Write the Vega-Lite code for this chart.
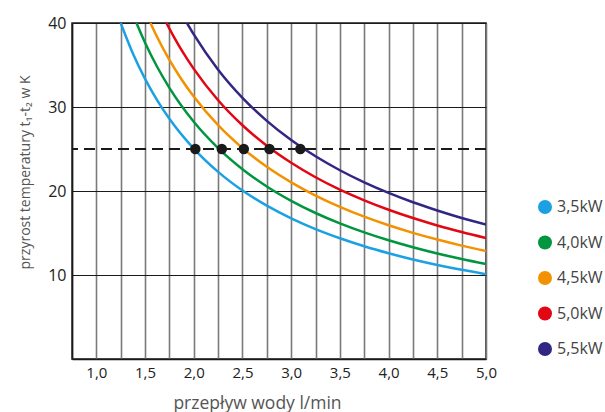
{
  "$schema": "https://vega.github.io/schema/vega-lite/v6.json",
  "autosize": {"type": "none"},
  "padding": {"left": 72, "top": 23, "right": 119, "bottom": 53},
  "width": 414,
  "height": 336,
  "background": "white",
  "config": {
    "font": "Open Sans",
    "view": {"stroke": "#1a1a1a", "strokeWidth": 1.5}
  },
  "resolve": {"axis": {"x": "independent"}},
  "datasets": {
    "curves": [
      {"q": 1.25, "t": 40.0, "moc": "3,5kW"},
      {"q": 1.375, "t": 36.37, "moc": "3,5kW"},
      {"q": 1.5, "t": 33.35, "moc": "3,5kW"},
      {"q": 1.625, "t": 30.79, "moc": "3,5kW"},
      {"q": 1.75, "t": 28.6, "moc": "3,5kW"},
      {"q": 2.0, "t": 25.05, "moc": "3,5kW"},
      {"q": 2.25, "t": 22.28, "moc": "3,5kW"},
      {"q": 2.5, "t": 20.06, "moc": "3,5kW"},
      {"q": 2.75, "t": 18.25, "moc": "3,5kW"},
      {"q": 3.0, "t": 16.74, "moc": "3,5kW"},
      {"q": 3.25, "t": 15.46, "moc": "3,5kW"},
      {"q": 3.5, "t": 14.37, "moc": "3,5kW"},
      {"q": 3.75, "t": 13.42, "moc": "3,5kW"},
      {"q": 4.0, "t": 12.59, "moc": "3,5kW"},
      {"q": 4.25, "t": 11.85, "moc": "3,5kW"},
      {"q": 4.5, "t": 11.2, "moc": "3,5kW"},
      {"q": 4.75, "t": 10.62, "moc": "3,5kW"},
      {"q": 5.0, "t": 10.1, "moc": "3,5kW"},
      {"q": 1.412, "t": 40.0, "moc": "4,0kW"},
      {"q": 1.5, "t": 37.65, "moc": "4,0kW"},
      {"q": 1.625, "t": 34.76, "moc": "4,0kW"},
      {"q": 1.75, "t": 32.28, "moc": "4,0kW"},
      {"q": 2.0, "t": 28.24, "moc": "4,0kW"},
      {"q": 2.25, "t": 25.11, "moc": "4,0kW"},
      {"q": 2.5, "t": 22.6, "moc": "4,0kW"},
      {"q": 2.75, "t": 20.54, "moc": "4,0kW"},
      {"q": 3.0, "t": 18.83, "moc": "4,0kW"},
      {"q": 3.25, "t": 17.38, "moc": "4,0kW"},
      {"q": 3.5, "t": 16.14, "moc": "4,0kW"},
      {"q": 3.75, "t": 15.07, "moc": "4,0kW"},
      {"q": 4.0, "t": 14.13, "moc": "4,0kW"},
      {"q": 4.25, "t": 13.3, "moc": "4,0kW"},
      {"q": 4.5, "t": 12.56, "moc": "4,0kW"},
      {"q": 4.75, "t": 11.9, "moc": "4,0kW"},
      {"q": 5.0, "t": 11.3, "moc": "4,0kW"},
      {"q": 1.555, "t": 40.0, "moc": "4,5kW"},
      {"q": 1.625, "t": 38.3, "moc": "4,5kW"},
      {"q": 1.75, "t": 35.61, "moc": "4,5kW"},
      {"q": 1.875, "t": 33.28, "moc": "4,5kW"},
      {"q": 2.0, "t": 31.24, "moc": "4,5kW"},
      {"q": 2.25, "t": 27.83, "moc": "4,5kW"},
      {"q": 2.5, "t": 25.11, "moc": "4,5kW"},
      {"q": 2.75, "t": 22.88, "moc": "4,5kW"},
      {"q": 3.0, "t": 21.03, "moc": "4,5kW"},
      {"q": 3.25, "t": 19.46, "moc": "4,5kW"},
      {"q": 3.5, "t": 18.11, "moc": "4,5kW"},
      {"q": 3.75, "t": 16.94, "moc": "4,5kW"},
      {"q": 4.0, "t": 15.92, "moc": "4,5kW"},
      {"q": 4.25, "t": 15.02, "moc": "4,5kW"},
      {"q": 4.5, "t": 14.22, "moc": "4,5kW"},
      {"q": 4.75, "t": 13.5, "moc": "4,5kW"},
      {"q": 5.0, "t": 12.86, "moc": "4,5kW"},
      {"q": 1.719, "t": 40.0, "moc": "5,0kW"},
      {"q": 1.8, "t": 38.26, "moc": "5,0kW"},
      {"q": 1.875, "t": 36.77, "moc": "5,0kW"},
      {"q": 2.0, "t": 34.54, "moc": "5,0kW"},
      {"q": 2.25, "t": 30.81, "moc": "5,0kW"},
      {"q": 2.5, "t": 27.83, "moc": "5,0kW"},
      {"q": 2.75, "t": 25.39, "moc": "5,0kW"},
      {"q": 3.0, "t": 23.36, "moc": "5,0kW"},
      {"q": 3.25, "t": 21.64, "moc": "5,0kW"},
      {"q": 3.5, "t": 20.16, "moc": "5,0kW"},
      {"q": 3.75, "t": 18.89, "moc": "5,0kW"},
      {"q": 4.0, "t": 17.77, "moc": "5,0kW"},
      {"q": 4.25, "t": 16.78, "moc": "5,0kW"},
      {"q": 4.5, "t": 15.9, "moc": "5,0kW"},
      {"q": 4.75, "t": 15.12, "moc": "5,0kW"},
      {"q": 5.0, "t": 14.41, "moc": "5,0kW"},
      {"q": 1.93, "t": 40.0, "moc": "5,5kW"},
      {"q": 2.0, "t": 38.64, "moc": "5,5kW"},
      {"q": 2.25, "t": 34.44, "moc": "5,5kW"},
      {"q": 2.5, "t": 31.09, "moc": "5,5kW"},
      {"q": 2.75, "t": 28.35, "moc": "5,5kW"},
      {"q": 3.0, "t": 26.06, "moc": "5,5kW"},
      {"q": 3.25, "t": 24.13, "moc": "5,5kW"},
      {"q": 3.5, "t": 22.47, "moc": "5,5kW"},
      {"q": 3.75, "t": 21.03, "moc": "5,5kW"},
      {"q": 4.0, "t": 19.77, "moc": "5,5kW"},
      {"q": 4.25, "t": 18.66, "moc": "5,5kW"},
      {"q": 4.5, "t": 17.68, "moc": "5,5kW"},
      {"q": 4.75, "t": 16.79, "moc": "5,5kW"},
      {"q": 5.0, "t": 16.0, "moc": "5,5kW"}
    ],
    "dots": [
      {"q": 2.016, "t": 25},
      {"q": 2.288, "t": 25},
      {"q": 2.514, "t": 25},
      {"q": 2.777, "t": 25},
      {"q": 3.094, "t": 25}
    ],
    "ref": [{"t": 25}]
  },
  "layer": [
    {
      "data": {"name": "curves"},
      "mark": {"type": "line", "strokeWidth": 2.5, "interpolate": "monotone", "clip": true},
      "encoding": {
        "x": {
          "field": "q", "type": "quantitative",
          "scale": {"domain": [0.75, 5.0], "nice": false, "zero": false},
          "axis": {
            "orient": "bottom",
            "values": [0.75, 1.0, 1.25, 1.5, 1.75, 2.0, 2.25, 2.5, 2.75, 3.0, 3.25, 3.5, 3.75, 4.0, 4.25, 4.5, 4.75, 5.0],
            "grid": true, "gridColor": "#7a7a7a", "gridWidth": 1.6,
            "ticks": false, "labels": false, "domain": false, "title": null
          }
        },
        "y": {
          "field": "t", "type": "quantitative",
          "scale": {"domain": [0, 40], "nice": false},
          "axis": {
            "values": [10, 20, 30, 40],
            "grid": true, "gridColor": "#1a1a1a", "gridWidth": 1.2,
            "ticks": false, "domainColor": "#1a1a1a", "domainWidth": 1.5,
            "labelFontSize": 16, "labelColor": "#222", "labelPadding": 6, "labelFont": "Open Sans",
            "title": "przyrost temperatury t₁-t₂ w K",
            "titleFontSize": 14, "titleFontWeight": "normal", "titleColor": "#555", "titleFont": "Open Sans",
            "titleAngle": -90, "titleAnchor": "middle", "titleAlign": "center", "titleX": -47, "titleY": 149, "titleBaseline": "middle"
          }
        },
        "color": {
          "field": "moc", "type": "nominal",
          "scale": {
            "domain": ["3,5kW", "4,0kW", "4,5kW", "5,0kW", "5,5kW"],
            "range": ["#1ba1e2", "#009640", "#f39200", "#e30613", "#312783"]
          },
          "legend": {
            "orient": "none", "legendX": 465, "legendY": 176,
            "title": null, "symbolType": "circle", "symbolSize": 196,
            "labelFontSize": 16, "labelColor": "#444", "labelFont": "Open Sans",
            "labelOffset": 4, "rowPadding": 19.5, "padding": 0,
            "encode": {
              "symbols": {
                "update": {
                  "fill": {"scale": "color", "field": "value"},
                  "strokeWidth": {"value": 0},
                  "opacity": {"value": 1}
                }
              }
            }
          }
        }
      }
    },
    {
      "data": {"name": "ref"},
      "mark": {"type": "rule", "color": "#1a1a1a", "strokeWidth": 2.2, "strokeDash": [11, 6]},
      "encoding": {"y": {"field": "t", "type": "quantitative"}}
    },
    {
      "data": {"name": "dots"},
      "mark": {"type": "circle", "color": "#1a1a1a", "opacity": 1, "size": 110},
      "encoding": {
        "x": {
          "field": "q", "type": "quantitative",
          "axis": {
            "orient": "bottom",
            "values": [1.0, 1.5, 2.0, 2.5, 3.0, 3.5, 4.0, 4.5, 5.0],
            "labelExpr": "floor(datum.value) + ',' + (round(datum.value * 10) % 10)",
            "grid": false, "ticks": false,
            "domainColor": "#1a1a1a", "domainWidth": 1.5,
            "labelFontSize": 15, "labelColor": "#222", "labelPadding": 6, "labelFont": "Open Sans",
            "labelDx": -2,
            "labelOverlap": false, "labelBound": false, "labelFlush": false,
            "title": "przepływ wody l/min",
            "titleFontSize": 17.5, "titleFontWeight": "normal", "titleColor": "#555", "titleFont": "Open Sans",
            "titleAnchor": "middle", "titleX": 185, "titleY": 44, "titleBaseline": "middle"
          }
        },
        "y": {"field": "t", "type": "quantitative"}
      }
    }
  ]
}
